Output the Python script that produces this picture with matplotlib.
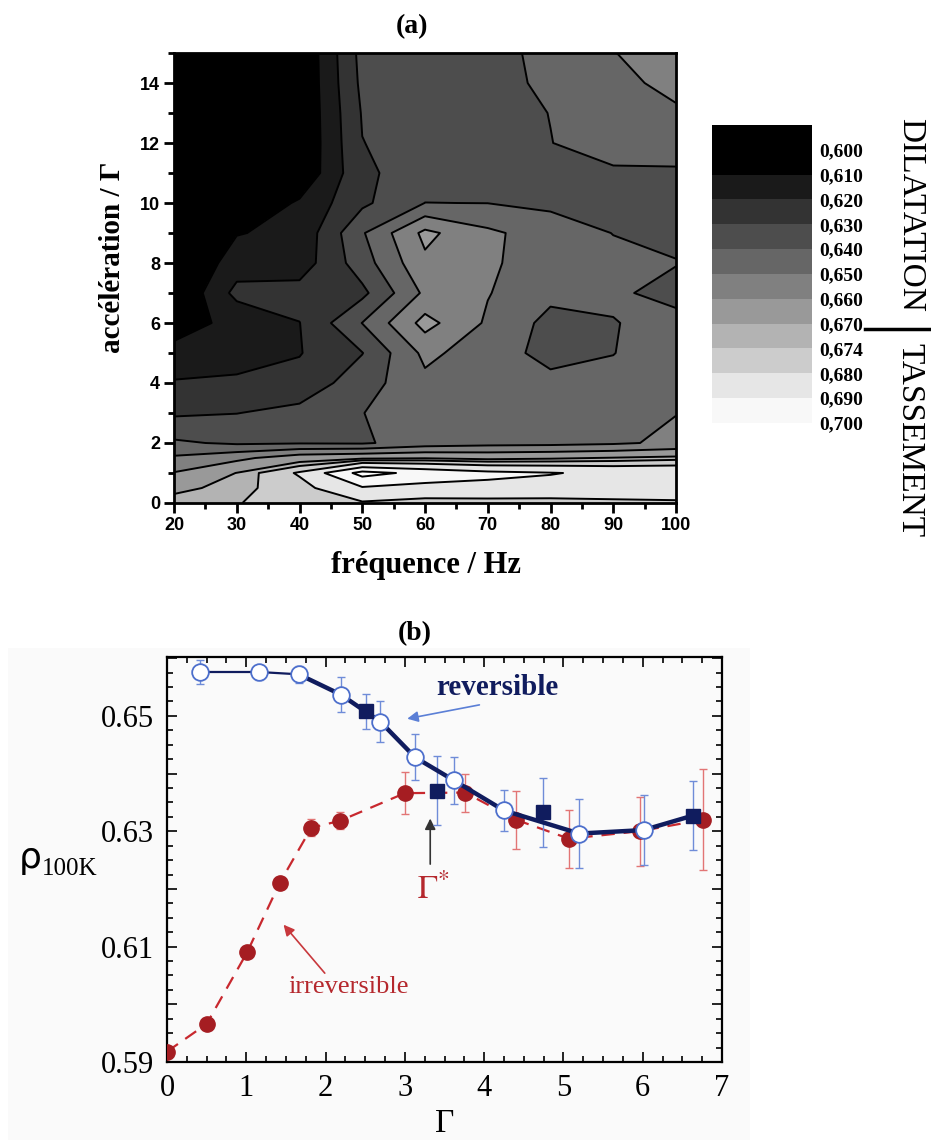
import numpy as np
import matplotlib
matplotlib.use("Agg")
import matplotlib.pyplot as plt
from matplotlib.colors import ListedColormap, BoundaryNorm
from matplotlib.lines import Line2D
from matplotlib.patches import Rectangle
from matplotlib.ticker import FixedLocator, MultipleLocator

# (a) compacite finale selon frequence et acceleration
freq = [20, 30, 40, 50, 60, 70, 80, 90, 100]
gamma_a = [0, 0.5, 1, 1.5, 2, 3, 4, 5, 6, 7, 8, 9, 10, 11, 12, 13, 14, 15]
# une ligne par valeur de gamma, une colonne par frequence
rho_grid = [
    [0.673, 0.6738, 0.676, 0.679, 0.677, 0.677, 0.677, 0.678, 0.6785],
    [0.668, 0.6725, 0.677, 0.689, 0.6865, 0.687, 0.6865, 0.686, 0.6865],
    [0.6605, 0.6702, 0.681, 0.7035, 0.697, 0.6925, 0.6905, 0.688, 0.688],
    [0.6515, 0.6575, 0.666, 0.6685, 0.6695, 0.668, 0.669, 0.6705, 0.672],
    [0.6415, 0.6385, 0.6392, 0.6388, 0.6445, 0.6465, 0.647, 0.6485, 0.652],
    [0.6285, 0.6298, 0.633, 0.6398, 0.6455, 0.645, 0.645, 0.646, 0.6498],
    [0.621, 0.622, 0.6234, 0.6356, 0.6475, 0.645, 0.6425, 0.6425, 0.6445],
    [0.612, 0.615, 0.6195, 0.6297, 0.6525, 0.6445, 0.637, 0.6398, 0.645],
    [0.607, 0.612, 0.6198, 0.6402, 0.6635, 0.6485, 0.637, 0.6395, 0.644],
    [0.599, 0.623, 0.624, 0.6275, 0.652, 0.6505, 0.6425, 0.642, 0.636],
    [0.598, 0.615, 0.6146, 0.6354, 0.658, 0.6515, 0.645, 0.6425, 0.6405],
    [0.598, 0.6095, 0.6125, 0.639, 0.6625, 0.652, 0.645, 0.6398, 0.637],
    [0.597, 0.600, 0.6115, 0.628, 0.6401, 0.6399, 0.638, 0.637, 0.637],
    [0.596, 0.597, 0.601, 0.6283, 0.6345, 0.636, 0.637, 0.6385, 0.6385],
    [0.595, 0.597, 0.600, 0.6298, 0.634, 0.6365, 0.6398, 0.6445, 0.6455],
    [0.595, 0.597, 0.600, 0.6307, 0.634, 0.636, 0.6402, 0.645, 0.648],
    [0.595, 0.596, 0.600, 0.6323, 0.635, 0.6365, 0.642, 0.646, 0.654],
    [0.595, 0.596, 0.600, 0.6333, 0.635, 0.637, 0.6425, 0.6497, 0.655],
]
levels = [0.59, 0.60, 0.61, 0.62, 0.63, 0.64, 0.65, 0.66, 0.67, 0.674, 0.68, 0.69, 0.70]
band_colors = ['#000000', '#000000', '#1a1a1a', '#333333', '#4d4d4d', '#666666',
               '#808080', '#999999', '#b3b3b3', '#cccccc', '#e6e6e6', '#f8f8f8']
level_labels = ['0,600', '0,610', '0,620', '0,630', '0,640', '0,650',
                '0,660', '0,670', '0,674', '0,680', '0,690', '0,700']

# (b) rho_100K en fonction de Gamma
irr_x = [0.00, 0.50, 1.01, 1.42, 1.82, 2.18, 3.00, 3.76, 4.40, 5.07, 5.96, 6.76]
irr_y = [0.5918, 0.5966, 0.6090, 0.6210, 0.6306, 0.6318, 0.6366, 0.6367, 0.6320, 0.6287, 0.6300, 0.6320]
irr_err = [0.0005, 0.0005, 0.0006, 0.0010, 0.0015, 0.0015, 0.0037, 0.0033, 0.0050, 0.0050, 0.0060, 0.0088]

rev_x = [0.41, 1.16, 1.66, 2.19, 2.69, 3.13, 3.62, 4.25, 5.20, 6.01]
rev_y = [0.6576, 0.6576, 0.6572, 0.6537, 0.6490, 0.6428, 0.6388, 0.6336, 0.6296, 0.6302]
rev_err = [0.0020, 0.0013, 0.0015, 0.0030, 0.0036, 0.0040, 0.0040, 0.0035, 0.0060, 0.0060]

sq_x = [2.51, 3.41, 4.74, 6.63]
sq_y = [0.6508, 0.6370, 0.6333, 0.6327]
sq_err = [0.0030, 0.0060, 0.0060, 0.0060]

W, H = 931, 1140
fx = lambda px: px / W
fy = lambda py: 1 - py / H

fig = plt.figure(figsize=(W / 100, H / 100), dpi=100, facecolor="white")

# ---------- (a) ----------
ax = fig.add_axes([fx(174), fy(503), fx(676) - fx(174), fy(53) - fy(503)])
cmap = ListedColormap(band_colors)
cmap.set_over('white')
norm = BoundaryNorm(levels, cmap.N)
ax.contourf(freq, gamma_a, rho_grid, levels=levels, cmap=cmap, norm=norm, extend='max')
ax.contour(freq, gamma_a, rho_grid, levels=levels[1:], colors='black', linewidths=1.4)
ax.set_xlim(20, 100)
ax.set_ylim(0, 15)
ax.xaxis.set_major_locator(MultipleLocator(10))
ax.xaxis.set_minor_locator(MultipleLocator(5))
ax.yaxis.set_major_locator(MultipleLocator(2))
ax.yaxis.set_minor_locator(MultipleLocator(1))
ax.tick_params(which='major', direction='out', length=7, width=2, pad=3)
ax.tick_params(which='minor', direction='out', length=4, width=2)
for lab in ax.get_xticklabels() + ax.get_yticklabels():
    lab.set_fontfamily('Liberation Sans')
    lab.set_fontweight('bold')
    lab.set_fontsize(13)
for s in ax.spines.values():
    s.set_linewidth(2)

fig.text(fx(426), fy(566), 'fréquence / Hz', ha='center', va='center',
         family='Liberation Serif', weight='bold', fontsize=22)
fig.text(fx(112), fy(257), 'accélération / Γ', ha='center', va='center', rotation=90,
         family='Liberation Serif', weight='bold', fontsize=21)
fig.text(fx(412), fy(27), '(a)', ha='center', va='center',
         family='Liberation Serif', weight='bold', fontsize=20)

# legende des niveaux
cax = fig.add_axes([fx(712), fy(423), fx(812) - fx(712), fy(125) - fy(423)])
bands = np.arange(len(band_colors))
cax.pcolormesh([0, 1], np.arange(len(band_colors) + 1), bands[:, None],
               cmap=ListedColormap(band_colors), shading='flat')
cax.set_ylim(len(band_colors), 0)
cax.set_xlim(0, 1)
cax.set_xticks([])
cax.yaxis.tick_right()
cax.set_yticks(np.arange(1, len(band_colors) + 1))
cax.set_yticklabels(level_labels, family='Liberation Serif', weight='bold', fontsize=14)
cax.tick_params(length=0, pad=5)
for s in cax.spines.values():
    s.set_visible(False)

fig.text(fx(910), fy(215), 'DILATATION', rotation=-90, ha='center', va='center',
         family='Liberation Serif', fontsize=24)
fig.text(fx(910), fy(440), 'TASSEMENT', rotation=-90, ha='center', va='center',
         family='Liberation Serif', fontsize=24)
fig.add_artist(Line2D([fx(865), fx(931)], [fy(329), fy(329)], color='black', lw=2.5))

# ---------- (b) ----------
fig.add_artist(Rectangle((fx(8), 0), fx(750) - fx(8), fy(648), transform=fig.transFigure,
                         facecolor='#fafafa', edgecolor='none', zorder=-1))
axb = fig.add_axes([fx(167), fy(1062), fx(722) - fx(167), fy(657) - fy(1062)])
axb.set_facecolor('none')

red, red_light = '#a51d22', '#e27575'
navy, blue_light = '#101c5e', '#6f8cd8'

axb.errorbar(irr_x, irr_y, yerr=irr_err, fmt='none', ecolor=red_light, elinewidth=1,
             capsize=3, capthick=1, zorder=2)
axb.plot(irr_x, irr_y, ls=(0, (6, 4)), color='#c8282e', lw=1.6, zorder=2)
axb.plot(irr_x, irr_y, 'o', ms=11, color=red, zorder=3)

axb.errorbar(rev_x, rev_y, yerr=rev_err, fmt='none', ecolor=blue_light, elinewidth=1,
             capsize=3, capthick=1, zorder=4)
axb.errorbar(sq_x, sq_y, yerr=sq_err, fmt='none', ecolor=blue_light, elinewidth=1,
             capsize=3, capthick=1, zorder=4)
axb.plot(rev_x[:3], rev_y[:3], color=navy, lw=1.6, zorder=5)
axb.plot(rev_x[2:] + sq_x[-1:], rev_y[2:] + sq_y[-1:], color=navy, lw=3.2, zorder=5)
axb.plot(rev_x, rev_y, 'o', ms=12, mfc='white', mec='#4d6fcc', mew=1.3, zorder=6)
axb.plot(sq_x, sq_y, 's', ms=10, color=navy, zorder=7)

axb.set_xlim(0, 7)
axb.set_ylim(0.59, 0.6602)
axb.xaxis.set_major_locator(MultipleLocator(1))
axb.xaxis.set_minor_locator(MultipleLocator(0.25))
axb.yaxis.set_major_locator(FixedLocator([0.59, 0.60, 0.61, 0.62, 0.63, 0.64, 0.65, 0.66]))
axb.yaxis.set_minor_locator(FixedLocator(np.arange(0.59, 0.6601, 0.0025)))
axb.set_yticklabels(['0.59', '', '0.61', '', '0.63', '', '0.65', ''])
axb.tick_params(which='both', direction='in', top=True, right=True, width=1.2)
axb.tick_params(which='major', length=7, pad=9)
axb.tick_params(which='minor', length=4)
for lab in axb.get_xticklabels() + axb.get_yticklabels():
    lab.set_fontfamily('Liberation Serif')
    lab.set_fontsize(22)
for s in axb.spines.values():
    s.set_linewidth(1.6)

axb.text(4.17, 0.6536, 'reversible', ha='center', va='baseline', color=navy,
         family='Liberation Serif', weight='bold', fontsize=21)
axb.annotate('', xy=(3.03, 0.6495), xytext=(3.94, 0.6519),
             arrowprops=dict(arrowstyle='-|>', color='#5b7fd6', lw=1.2,
                             mutation_scale=16, shrinkA=0, shrinkB=0))
axb.text(2.29, 0.6020, 'irreversible', ha='center', va='baseline', color='#b5282d',
         family='Liberation Serif', fontsize=19)
axb.annotate('', xy=(1.47, 0.6138), xytext=(1.99, 0.6054),
             arrowprops=dict(arrowstyle='-|>', color='#c8383c', lw=1.2,
                             mutation_scale=16, shrinkA=0, shrinkB=0))
axb.text(3.15, 0.6184, r'$\Gamma^{*}$', ha='left', va='baseline', color='#b5282d',
         fontsize=24, math_fontfamily='stix')
axb.annotate('', xy=(3.32, 0.6322), xytext=(3.32, 0.6243),
             arrowprops=dict(arrowstyle='-|>', color='#333333', lw=1.2,
                             mutation_scale=16, shrinkA=0, shrinkB=0))

fig.text(fx(30), fy(858), 'ρ', ha='center', va='center', family='DejaVu Sans', fontsize=26)
fig.text(fx(42), fy(869), '100K', ha='left', va='center', family='Liberation Serif', fontsize=18)
fig.text(fx(445), fy(1124), 'Γ', ha='center', va='center', family='Liberation Serif', fontsize=24)
fig.text(fx(415), fy(634), '(b)', ha='center', va='center',
         family='Liberation Serif', weight='bold', fontsize=20)

fig.savefig("out.png", dpi=100, facecolor="white")
